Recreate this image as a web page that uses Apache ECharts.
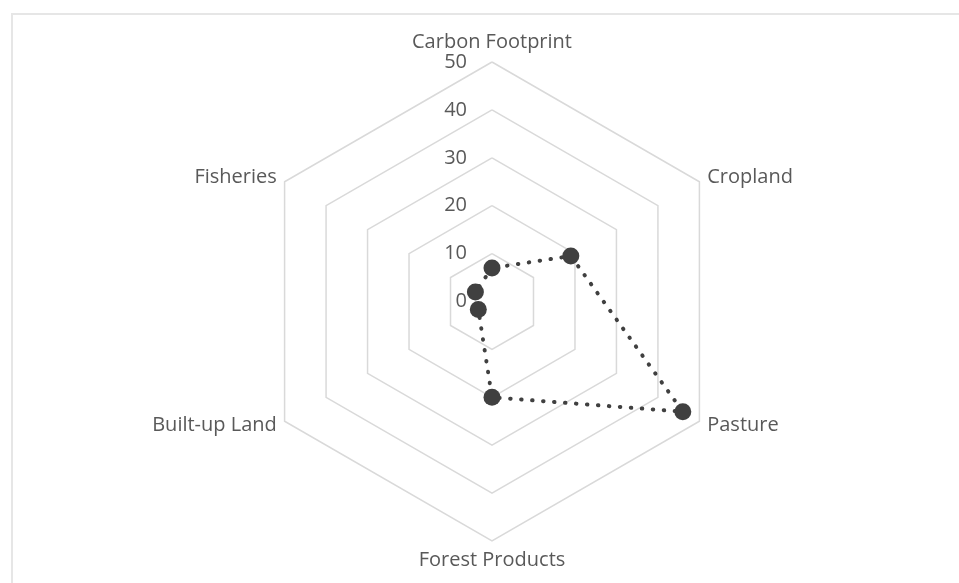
<!DOCTYPE html>
<html>
<head>
<meta charset="utf-8">
<script src="https://cdn.jsdelivr.net/npm/echarts@6/dist/echarts.min.js"></script>
<style>
  html, body { margin: 0; padding: 0; background: #ffffff; }
  #chart { width: 959px; height: 583px; }
</style>
</head>
<body>
<div id="chart"></div>
<script>
// Footprint categories, clockwise from the top
const categories = ['Carbon Footprint', 'Cropland', 'Pasture', 'Forest Products', 'Built-up Land', 'Fisheries'];
// Values per category
const values = [7, 19, 46, 20, 3.3, 4];
// Scale of the radial axis
const axisMax = 50;
const axisSplits = 5;

const textColor = '#595959';
const gridColor = '#d9d9d9';
const markColor = '#404040';
const fontFamily = '"Century Gothic", "Open Sans", "Lato", sans-serif';

// The radar lays its spokes out counter-clockwise, so walk the
// categories in reverse after the first one to keep them clockwise.
const order = categories.map(function (_, i) { return i === 0 ? 0 : categories.length - i; });

const indicator = order.map(function (idx, i) {
  const item = { name: categories[idx], min: 0, max: axisMax };
  if (i === 0) {
    // tick labels only along the first spoke
    item.axisLabel = {
      show: true,
      color: textColor,
      fontSize: 20,
      fontFamily: fontFamily,
      margin: 25
    };
  }
  return item;
});
const orderedValues = order.map(function (idx) { return values[idx]; });

const chart = echarts.init(document.getElementById('chart'), null, { renderer: 'canvas' });

chart.setOption({
  animation: false,
  backgroundColor: '#ffffff',
  graphic: [{
    type: 'polyline',
    shape: { points: [[12, 600], [12, 14], [970, 14]] },
    style: { stroke: '#e6e6e6', lineWidth: 2, fill: null },
    silent: true
  }],
  radar: {
    center: [492, 301.5],
    radius: 239.5,
    startAngle: 90,
    shape: 'polygon',
    splitNumber: axisSplits,
    indicator: indicator,
    axisName: {
      color: textColor,
      fontSize: 20,
      fontFamily: fontFamily
    },
    nameGap: 9,
    axisLine: { show: false },
    axisTick: { show: false },
    axisLabel: { show: false },
    splitLine: { lineStyle: { color: gridColor, width: 1.5 } },
    splitArea: { show: false }
  },
  series: [{
    type: 'radar',
    symbol: 'circle',
    symbolSize: 17,
    itemStyle: { color: markColor },
    lineStyle: {
      color: markColor,
      width: 4,
      type: [0.5, 10.5],
      cap: 'round'
    },
    data: [{ value: orderedValues }]
  }]
});
</script>
</body>
</html>
